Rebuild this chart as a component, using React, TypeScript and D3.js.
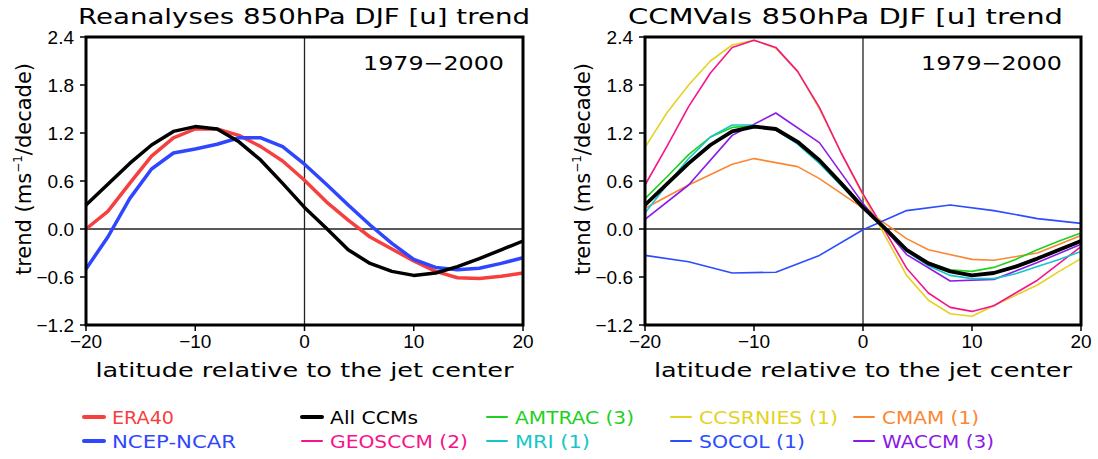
import React from 'react';
import * as d3 from 'd3';

// latitude grids (degrees relative to jet center)
const lat2 = [-20, -18, -16, -14, -12, -10, -8, -6, -4, -2, 0, 2, 4, 6, 8, 10, 12, 14, 16, 18, 20];
const lat4 = [-20, -16, -12, -8, -4, 0, 4, 8, 12, 16, 20];
const latCmam = [-20, -16, -12, -10, -8, -6, -4, 0, 4, 6, 10, 12, 16, 20];

// trends, m/s per decade
const era40 = [0.0, 0.22, 0.57, 0.91, 1.14, 1.25, 1.25, 1.17, 1.03, 0.85, 0.61, 0.34, 0.11, -0.10, -0.25, -0.40, -0.53, -0.61, -0.62, -0.59, -0.55];
const ncep = [-0.50, -0.10, 0.38, 0.75, 0.95, 1.00, 1.06, 1.14, 1.14, 1.03, 0.81, 0.56, 0.30, 0.05, -0.18, -0.38, -0.48, -0.51, -0.49, -0.43, -0.36];
const allCcms = [0.30, 0.56, 0.82, 1.05, 1.22, 1.28, 1.25, 1.09, 0.86, 0.57, 0.27, 0.01, -0.26, -0.43, -0.53, -0.58, -0.55, -0.47, -0.37, -0.26, -0.15];
const amtrac = [0.38, 0.65, 0.93, 1.15, 1.27, 1.29, 1.25, 1.08, 0.84, 0.55, 0.26, 0.0, -0.26, -0.42, -0.51, -0.53, -0.48, -0.38, -0.26, -0.15, -0.05];
const mri = [0.20, 0.55, 0.88, 1.15, 1.30, 1.30, 1.24, 1.06, 0.82, 0.54, 0.26, 0.0, -0.28, -0.46, -0.58, -0.62, -0.62, -0.56, -0.47, -0.38, -0.28];
const ccsrnies = [1.02, 1.45, 1.80, 2.10, 2.30, 2.36, 2.26, 1.97, 1.50, 0.95, 0.42, -0.08, -0.58, -0.89, -1.06, -1.09, -0.96, -0.83, -0.70, -0.53, -0.37];
const geosccm = [0.55, 1.03, 1.53, 1.95, 2.27, 2.36, 2.27, 1.97, 1.52, 0.95, 0.44, -0.02, -0.49, -0.80, -0.98, -1.03, -0.96, -0.80, -0.64, -0.43, -0.22];
const cmam = [0.26, 0.55, 0.81, 0.88, 0.83, 0.78, 0.63, 0.26, -0.12, -0.26, -0.38, -0.39, -0.30, -0.08];
const socol = [-0.33, -0.41, -0.55, -0.54, -0.33, -0.01, 0.23, 0.30, 0.23, 0.13, 0.07];
const waccm = [0.12, 0.55, 1.17, 1.45, 1.08, 0.32, -0.32, -0.65, -0.63, -0.42, -0.19];

const yTicks = [-1.2, -0.6, 0, 0.6, 1.2, 1.8, 2.4];
const yTickLabels = ['\u22121.2', '\u22120.6', '0.0', '0.6', '1.2', '1.8', '2.4'];
const xTicks = [-20, -10, 0, 10, 20];
const xTickLabels = ['\u221220', '\u221210', '0', '10', '20'];

const C = {
  era: '#f5403f', ncep: '#2f46ff', all: '#000000', geos: '#f5158a', amtrac: '#1fd11f',
  mri: '#16c6c9', ccsr: '#e3d324', socol: '#2b4cff', cmam: '#fb8735', waccm: '#8a1ae6'
};

const leftSeries = [
  { x: lat2, y: era40, color: C.era, w: 3.5 },
  { x: lat2, y: ncep, color: C.ncep, w: 3.5 },
  { x: lat2, y: allCcms, color: C.all, w: 3.5 },
];
const rightSeries = [
  { x: lat2, y: ccsrnies, color: C.ccsr, w: 1.6 },
  { x: lat2, y: geosccm, color: C.geos, w: 1.6 },
  { x: latCmam, y: cmam, color: C.cmam, w: 1.6 },
  { x: lat4, y: socol, color: C.socol, w: 1.6 },
  { x: lat4, y: waccm, color: C.waccm, w: 1.6 },
  { x: lat2, y: amtrac, color: C.amtrac, w: 1.6 },
  { x: lat2, y: mri, color: C.mri, w: 1.6 },
  { x: lat2, y: allCcms, color: C.all, w: 3.8 },
];

const legend = [
  { label: 'ERA40', color: C.era, thick: true, col: 0, row: 0, len: 62 },
  { label: 'NCEP-NCAR', color: C.ncep, thick: true, col: 0, row: 1, len: 124 },
  { label: 'All CCMs', color: C.all, thick: true, col: 1, row: 0, len: 88 },
  { label: 'GEOSCCM (2)', color: C.geos, thick: false, col: 1, row: 1, len: 138 },
  { label: 'AMTRAC (3)', color: C.amtrac, thick: false, col: 2, row: 0, len: 119 },
  { label: 'MRI (1)', color: C.mri, thick: false, col: 2, row: 1, len: 75 },
  { label: 'CCSRNIES (1)', color: C.ccsr, thick: false, col: 3, row: 0, len: 139 },
  { label: 'SOCOL (1)', color: C.socol, thick: false, col: 3, row: 1, len: 106 },
  { label: 'CMAM (1)', color: C.cmam, thick: false, col: 4, row: 0, len: 97 },
  { label: 'WACCM (3)', color: C.waccm, thick: false, col: 4, row: 1, len: 112 },
];
const legendCols = [84, 302, 487, 671, 854];
const legendRows = [424, 448];

const TOP = 37, BOTTOM = 325;
const tickFont = '"Liberation Sans", Arial, sans-serif';
const labelFont = '"DejaVu Sans", sans-serif';

function Panel({ x0, x1, title, titleX, titleLen, series }) {
  const x = d3.scaleLinear().domain([-20, 20]).range([x0, x1]);
  const y = d3.scaleLinear().domain([-1.2, 2.4]).range([BOTTOM, TOP]);
  return (
    <g>
      <text x={titleX} y={24} fontFamily={labelFont} fontSize={22} textLength={titleLen} lengthAdjust="spacingAndGlyphs">{title}</text>
      <line x1={x0} x2={x1} y1={y(0)} y2={y(0)} stroke="#222" strokeWidth={1.3} />
      <line x1={x(0)} x2={x(0)} y1={TOP} y2={BOTTOM} stroke="#222" strokeWidth={1.3} />
      {series.map((s, i) => {
        const pts = s.x.map((v, j) => [v, s.y[j]]);
        const path = d3.line().x(d => x(d[0])).y(d => y(d[1]))(pts);
        return <path key={i} d={path} fill="none" stroke={s.color} strokeWidth={s.w} strokeLinejoin="round" />;
      })}
      <rect x={x0} y={TOP} width={x1 - x0} height={BOTTOM - TOP} fill="none" stroke="#000" strokeWidth={3} />
      {yTicks.map((t, i) => (
        <g key={'y' + i}>
          <line x1={x0 - 6} x2={x0} y1={y(t)} y2={y(t)} stroke="#000" strokeWidth={1.5} />
          <text x={x0 - 12} y={y(t)} dy="0.36em" textAnchor="end" fontFamily={tickFont} fontSize={19}>{yTickLabels[i]}</text>
        </g>
      ))}
      {xTicks.map((t, i) => (
        <g key={'x' + i}>
          <line x1={x(t)} x2={x(t)} y1={BOTTOM} y2={BOTTOM + 6} stroke="#000" strokeWidth={1.5} />
          <text x={x(t)} y={348} textAnchor="middle" fontFamily={tickFont} fontSize={19}>{xTickLabels[i]}</text>
        </g>
      ))}
      <text x={x(0)} y={377} textAnchor="middle" fontFamily={labelFont} fontSize={20} textLength={418} lengthAdjust="spacingAndGlyphs">latitude relative to the jet center</text>
      <text x={x1 - 19} y={70} textAnchor="end" fontFamily={labelFont} fontSize={20} textLength={141} lengthAdjust="spacingAndGlyphs">1979{'\u2212'}2000</text>
      <text transform={`translate(${x0 - 55},${(TOP + BOTTOM) / 2 - 12}) rotate(-90)`} textAnchor="middle" fontFamily={labelFont} fontSize={21}>
        trend (ms<tspan fontSize={12} dy={-9}>{'\u2212'}1</tspan><tspan dy={9}>/decade)</tspan>
      </text>
    </g>
  );
}

export default function App() {
  return (
    <svg width={1098} height={459} style={{ display: 'block', position: 'absolute', left: 0, top: 0, background: '#fff' }}>
      <rect width={1098} height={459} fill="#fff" />
      <Panel x0={86} x1={523} title="Reanalyses 850hPa DJF [u] trend" titleX={78} titleLen={452} series={leftSeries} />
      <Panel x0={645} x1={1081} title="CCMVals 850hPa DJF [u] trend" titleX={628} titleLen={435} series={rightSeries} />
      {legend.map((l, i) => {
        const lx = legendCols[l.col];
        const ly = legendRows[l.row];
        return (
          <g key={i}>
            <line x1={lx} x2={lx + 20} y1={ly - 7} y2={ly - 7} stroke={l.color} strokeWidth={l.thick ? 4 : 2} strokeLinecap="round" />
            <text x={lx + 28} y={ly} fill={l.color} fontFamily={labelFont} fontSize={18} textLength={l.len} lengthAdjust="spacingAndGlyphs">{l.label}</text>
          </g>
        );
      })}
    </svg>
  );
}
